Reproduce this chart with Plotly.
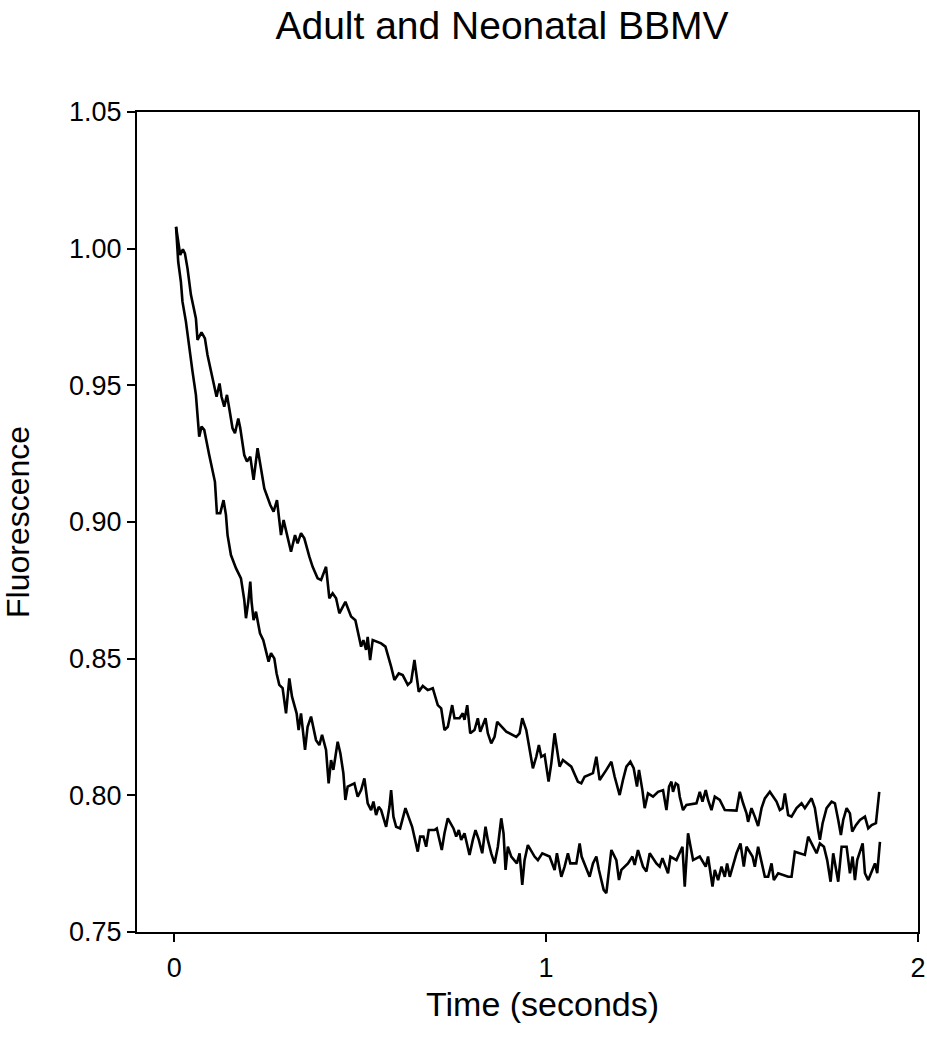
import plotly.graph_objects as go

# Upper trace (slower decay)
t_upper = [0.005, 0.0162, 0.0234, 0.0288, 0.0358, 0.0450, 0.0584, 0.0627, 0.0735, 0.0826,
           0.0896, 0.0988, 0.1139, 0.1219, 0.1273, 0.1346, 0.1419, 0.1480, 0.1569, 0.1634,
           0.1723, 0.1777, 0.1884, 0.1957, 0.2046, 0.2135, 0.2242, 0.2334, 0.2423, 0.2584,
           0.2673, 0.2764, 0.2826, 0.2872, 0.2942, 0.3034, 0.3141, 0.3249, 0.3319, 0.3410,
           0.3499, 0.3634, 0.3723, 0.3857, 0.3949, 0.4083, 0.4172, 0.4261, 0.4353, 0.4441,
           0.4603, 0.4756, 0.4872, 0.5026, 0.5087, 0.5160, 0.5203, 0.5268, 0.5338, 0.5564,
           0.5680, 0.5833, 0.5922, 0.6038, 0.6145, 0.6280, 0.6371, 0.6460, 0.6576, 0.6684,
           0.6818, 0.6953, 0.7087, 0.7179, 0.7268, 0.7357, 0.7475, 0.7537, 0.7672, 0.7760,
           0.7806, 0.7879, 0.7960, 0.8075, 0.8164, 0.8229, 0.8371, 0.8433, 0.8525, 0.8614,
           0.8686, 0.8929, 0.9198, 0.9287, 0.9359, 0.9467, 0.9556, 0.9645, 0.9736, 0.9806,
           0.9871, 0.9960, 1.0067, 1.0140, 1.0229, 1.0363, 1.0452, 1.0678, 1.0856, 1.0947,
           1.1036, 1.1260, 1.1351, 1.1440, 1.1620, 1.1755, 1.1844, 1.1978, 1.2067, 1.2159,
           1.2266, 1.2355, 1.2444, 1.2498, 1.2589, 1.2651, 1.2740, 1.2875, 1.3010, 1.3144,
           1.3236, 1.3306, 1.3370, 1.3413, 1.3486, 1.3548, 1.3594, 1.3682, 1.3774, 1.4043,
           1.4132, 1.4205, 1.4293, 1.4355, 1.4447, 1.4536, 1.4670, 1.4805, 1.5120, 1.5209,
           1.5297, 1.5389, 1.5432, 1.5523, 1.5612, 1.5701, 1.5793, 1.5882, 1.6016, 1.6196,
           1.6285, 1.6358, 1.6420, 1.6509, 1.6600, 1.6735, 1.6869, 1.6958, 1.7138, 1.7227,
           1.7316, 1.7362, 1.7435, 1.7542, 1.7677, 1.7766, 1.7855, 1.7927, 1.7989, 1.8081,
           1.8170, 1.8231, 1.8331, 1.8439, 1.8573, 1.8662, 1.8754, 1.8869, 1.8958]
f_upper = [1.0080, 0.9977, 0.9998, 0.9983, 0.9928, 0.9831, 0.9745, 0.9666, 0.9694, 0.9672,
           0.9611, 0.9550, 0.9458, 0.9507, 0.9458, 0.9422, 0.9465, 0.9416, 0.9343, 0.9325,
           0.9379, 0.9343, 0.9245, 0.9221, 0.9239, 0.9154, 0.9270, 0.9196, 0.9123, 0.9062,
           0.9038, 0.9080, 0.9014, 0.8952, 0.9007, 0.8952, 0.8891, 0.8952, 0.8922, 0.8959,
           0.8940, 0.8873, 0.8836, 0.8794, 0.8788, 0.8836, 0.8721, 0.8739, 0.8721, 0.8666,
           0.8708, 0.8654, 0.8641, 0.8544, 0.8568, 0.8532, 0.8580, 0.8495, 0.8568, 0.8556,
           0.8544, 0.8471, 0.8422, 0.8446, 0.8440, 0.8404, 0.8416, 0.8495, 0.8379, 0.8400,
           0.8385, 0.8392, 0.8330, 0.8318, 0.8239, 0.8251, 0.8330, 0.8282, 0.8282, 0.8300,
           0.8276, 0.8330, 0.8227, 0.8239, 0.8282, 0.8233, 0.8282, 0.8227, 0.8190, 0.8214,
           0.8269, 0.8233, 0.8214, 0.8227, 0.8282, 0.8239, 0.8166, 0.8099, 0.8141, 0.8184,
           0.8141, 0.8148, 0.8050, 0.8117, 0.8227, 0.8105, 0.8129, 0.8105, 0.8050, 0.8044,
           0.8068, 0.8081, 0.8141, 0.8056, 0.8093, 0.8123, 0.8068, 0.8001, 0.8056, 0.8105,
           0.8123, 0.8099, 0.8032, 0.8093, 0.8019, 0.7953, 0.8007, 0.7995, 0.8013, 0.8019,
           0.7946, 0.8032, 0.8050, 0.8013, 0.8044, 0.8038, 0.7995, 0.7946, 0.7965, 0.7971,
           0.8013, 0.7977, 0.8019, 0.7983, 0.7946, 0.7995, 0.7983, 0.7946, 0.7944, 0.8013,
           0.7971, 0.7934, 0.7903, 0.7953, 0.7922, 0.7888, 0.7953, 0.7989, 0.8013, 0.7977,
           0.7946, 0.7953, 0.8007, 0.7928, 0.7922, 0.7953, 0.7971, 0.7953, 0.7989, 0.7953,
           0.7873, 0.7837, 0.7898, 0.7953, 0.7977, 0.7971, 0.7910, 0.7855, 0.7910, 0.7953,
           0.7934, 0.7867, 0.7891, 0.7910, 0.7922, 0.7879, 0.7891, 0.7898, 0.8013]

# Lower trace (faster decay)
t_lower = [0.005, 0.0108, 0.0180, 0.0223, 0.0315, 0.0404, 0.0493, 0.0584, 0.0673, 0.0735,
           0.0808, 0.0942, 0.1031, 0.1096, 0.1149, 0.1238, 0.1327, 0.1392, 0.1435, 0.1526,
           0.1661, 0.1795, 0.1884, 0.1930, 0.1992, 0.2046, 0.2081, 0.2135, 0.2199, 0.2261,
           0.2307, 0.2396, 0.2468, 0.2538, 0.2603, 0.2692, 0.2754, 0.2826, 0.2915, 0.3007,
           0.3096, 0.3168, 0.3292, 0.3346, 0.3410, 0.3518, 0.3588, 0.3680, 0.3814, 0.3903,
           0.3976, 0.4083, 0.4153, 0.4218, 0.4280, 0.4396, 0.4468, 0.4549, 0.4603, 0.4665,
           0.4845, 0.4934, 0.5026, 0.5114, 0.5203, 0.5295, 0.5357, 0.5429, 0.5499, 0.5564,
           0.5699, 0.5788, 0.5833, 0.5895, 0.5968, 0.6075, 0.6218, 0.6398, 0.6549, 0.6614,
           0.6702, 0.6775, 0.6845, 0.6999, 0.7061, 0.7195, 0.7268, 0.7357, 0.7510, 0.7583,
           0.7653, 0.7717, 0.7806, 0.7941, 0.8030, 0.8102, 0.8191, 0.8283, 0.8371, 0.8433,
           0.8525, 0.8614, 0.8703, 0.8794, 0.8856, 0.8910, 0.8972, 0.9063, 0.9214, 0.9287,
           0.9359, 0.9421, 0.9510, 0.9690, 0.9779, 0.9898, 1.0094, 1.0229, 1.0291, 1.0409,
           1.0498, 1.0587, 1.0651, 1.0813, 1.0902, 1.0955, 1.1098, 1.1171, 1.1260, 1.1351,
           1.1421, 1.1548, 1.1620, 1.1690, 1.1755, 1.1889, 1.1960, 1.2024, 1.2202, 1.2321,
           1.2382, 1.2471, 1.2606, 1.2697, 1.2786, 1.2966, 1.3055, 1.3128, 1.3279, 1.3343,
           1.3505, 1.3666, 1.3728, 1.3817, 1.3952, 1.4132, 1.4293, 1.4355, 1.4474, 1.4536,
           1.4625, 1.4716, 1.4805, 1.4867, 1.4939, 1.5120, 1.5227, 1.5316, 1.5389, 1.5550,
           1.5612, 1.5701, 1.5882, 1.5971, 1.6062, 1.6124, 1.6240, 1.6509, 1.6600, 1.6689,
           1.6824, 1.6958, 1.7047, 1.7138, 1.7273, 1.7362, 1.7470, 1.7558, 1.7650, 1.7720,
           1.7855, 1.7946, 1.8081, 1.8170, 1.8242, 1.8304, 1.8366, 1.8512, 1.8573, 1.8662,
           1.8843, 1.8904, 1.8977]
f_lower = [1.0080, 0.9952, 0.9879, 0.9806, 0.9733, 0.9635, 0.9550, 0.9465, 0.9312, 0.9349,
           0.9337, 0.9245, 0.9184, 0.9147, 0.9032, 0.9032, 0.9080, 0.9026, 0.8952, 0.8879,
           0.8831, 0.8794, 0.8715, 0.8648, 0.8708, 0.8782, 0.8708, 0.8641, 0.8672, 0.8629,
           0.8593, 0.8568, 0.8532, 0.8489, 0.8520, 0.8501, 0.8446, 0.8404, 0.8392, 0.8300,
           0.8428, 0.8361, 0.8300, 0.8239, 0.8300, 0.8166, 0.8251, 0.8288, 0.8202, 0.8184,
           0.8221, 0.8166, 0.8044, 0.8129, 0.8093, 0.8196, 0.8154, 0.8081, 0.7983, 0.8032,
           0.8044, 0.7995, 0.8019, 0.8062, 0.7971, 0.7946, 0.7977, 0.7928, 0.7958, 0.7946,
           0.7885, 0.7958, 0.8019, 0.7922, 0.7885, 0.7879, 0.7953, 0.7885, 0.7794, 0.7849,
           0.7849, 0.7812, 0.7873, 0.7873, 0.7879, 0.7800, 0.7861, 0.7916, 0.7879, 0.7849,
           0.7873, 0.7837, 0.7861, 0.7782, 0.7837, 0.7873, 0.7837, 0.7788, 0.7885, 0.7837,
           0.7788, 0.7751, 0.7812, 0.7916, 0.7861, 0.7727, 0.7812, 0.7776, 0.7751, 0.7788,
           0.7672, 0.7763, 0.7818, 0.7776, 0.7763, 0.7788, 0.7776, 0.7727, 0.7788, 0.7702,
           0.7739, 0.7788, 0.7751, 0.7751, 0.7824, 0.7776, 0.7727, 0.7702, 0.7751, 0.7776,
           0.7727, 0.7654, 0.7642, 0.7727, 0.7800, 0.7763, 0.7690, 0.7727, 0.7751, 0.7776,
           0.7745, 0.7800, 0.7739, 0.7721, 0.7788, 0.7751, 0.7739, 0.7770, 0.7715, 0.7776,
           0.7763, 0.7812, 0.7666, 0.7861, 0.7763, 0.7776, 0.7739, 0.7776, 0.7666, 0.7727,
           0.7690, 0.7739, 0.7702, 0.7751, 0.7702, 0.7788, 0.7824, 0.7739, 0.7812, 0.7776,
           0.7739, 0.7812, 0.7702, 0.7702, 0.7751, 0.7690, 0.7715, 0.7702, 0.7702, 0.7794,
           0.7788, 0.7782, 0.7849, 0.7824, 0.7788, 0.7824, 0.7812, 0.7763, 0.7684, 0.7788,
           0.7684, 0.7812, 0.7812, 0.7715, 0.7776, 0.7690, 0.7763, 0.7824, 0.7715, 0.7690,
           0.7751, 0.7715, 0.7830]

x_tick_vals = [0, 1, 2]
x_tick_text = ["0", "1", "2"]
y_tick_vals = [0.75, 0.80, 0.85, 0.90, 0.95, 1.00, 1.05]
y_tick_text = ["0.75", "0.80", "0.85", "0.90", "0.95", "1.00", "1.05"]

title_text = "Adult and Neonatal BBMV"
x_title = "Time (seconds)"
y_title = "Fluorescence"

FONT = "Liberation Sans, Arial, sans-serif"

W, H = 927, 1050
L, R, T, B = 137, 9, 112, 118
plot_w = W - L - R
plot_h = H - T - B

fig = go.Figure()
for tt, ff in [(t_upper, f_upper), (t_lower, f_lower)]:
    fig.add_trace(go.Scatter(x=tt, y=ff, mode="lines",
                             line=dict(color="black", width=2.6),
                             showlegend=False, hoverinfo="skip"))

axis_common = dict(showline=True, linecolor="black", linewidth=2, mirror=True,
                   showgrid=False, zeroline=False, ticks="outside", ticklen=8,
                   tickwidth=1.5, tickcolor="black", automargin=False,
                   tickfont=dict(family=FONT, size=27, color="black"))

fig.update_layout(
    width=W, height=H,
    margin=dict(l=L, r=R, t=T, b=B, autoexpand=False),
    paper_bgcolor="white", plot_bgcolor="white",
    title=dict(text=title_text, xref="container", x=502 / W, xanchor="center",
               yref="container", y=1 - 25 / H, yanchor="middle",
               font=dict(family=FONT, size=39, color="black")),
    xaxis=dict(range=[-0.1, 2], tickvals=x_tick_vals, ticktext=x_tick_text,
               ticklabelstandoff=3, **axis_common),
    yaxis=dict(range=[0.75, 1.05], tickvals=y_tick_vals, ticktext=y_tick_text,
               **axis_common),
    annotations=[
        dict(text=x_title, xref="x", x=0.99, yref="paper", y=-72 / plot_h,
             xanchor="center", yanchor="middle", showarrow=False,
             font=dict(family=FONT, size=34, color="black")),
        dict(text=y_title, xref="paper", x=-(L - 18) / plot_w, yref="y", y=0.90,
             xanchor="center", yanchor="middle", showarrow=False, textangle=-90,
             font=dict(family=FONT, size=32, color="black")),
    ],
)

# remove the browser's default 8px body margin so the figure fills the window exactly
fig.write_html("out.html", config={"displayModeBar": False},
               post_script="document.body.style.margin='0';")
